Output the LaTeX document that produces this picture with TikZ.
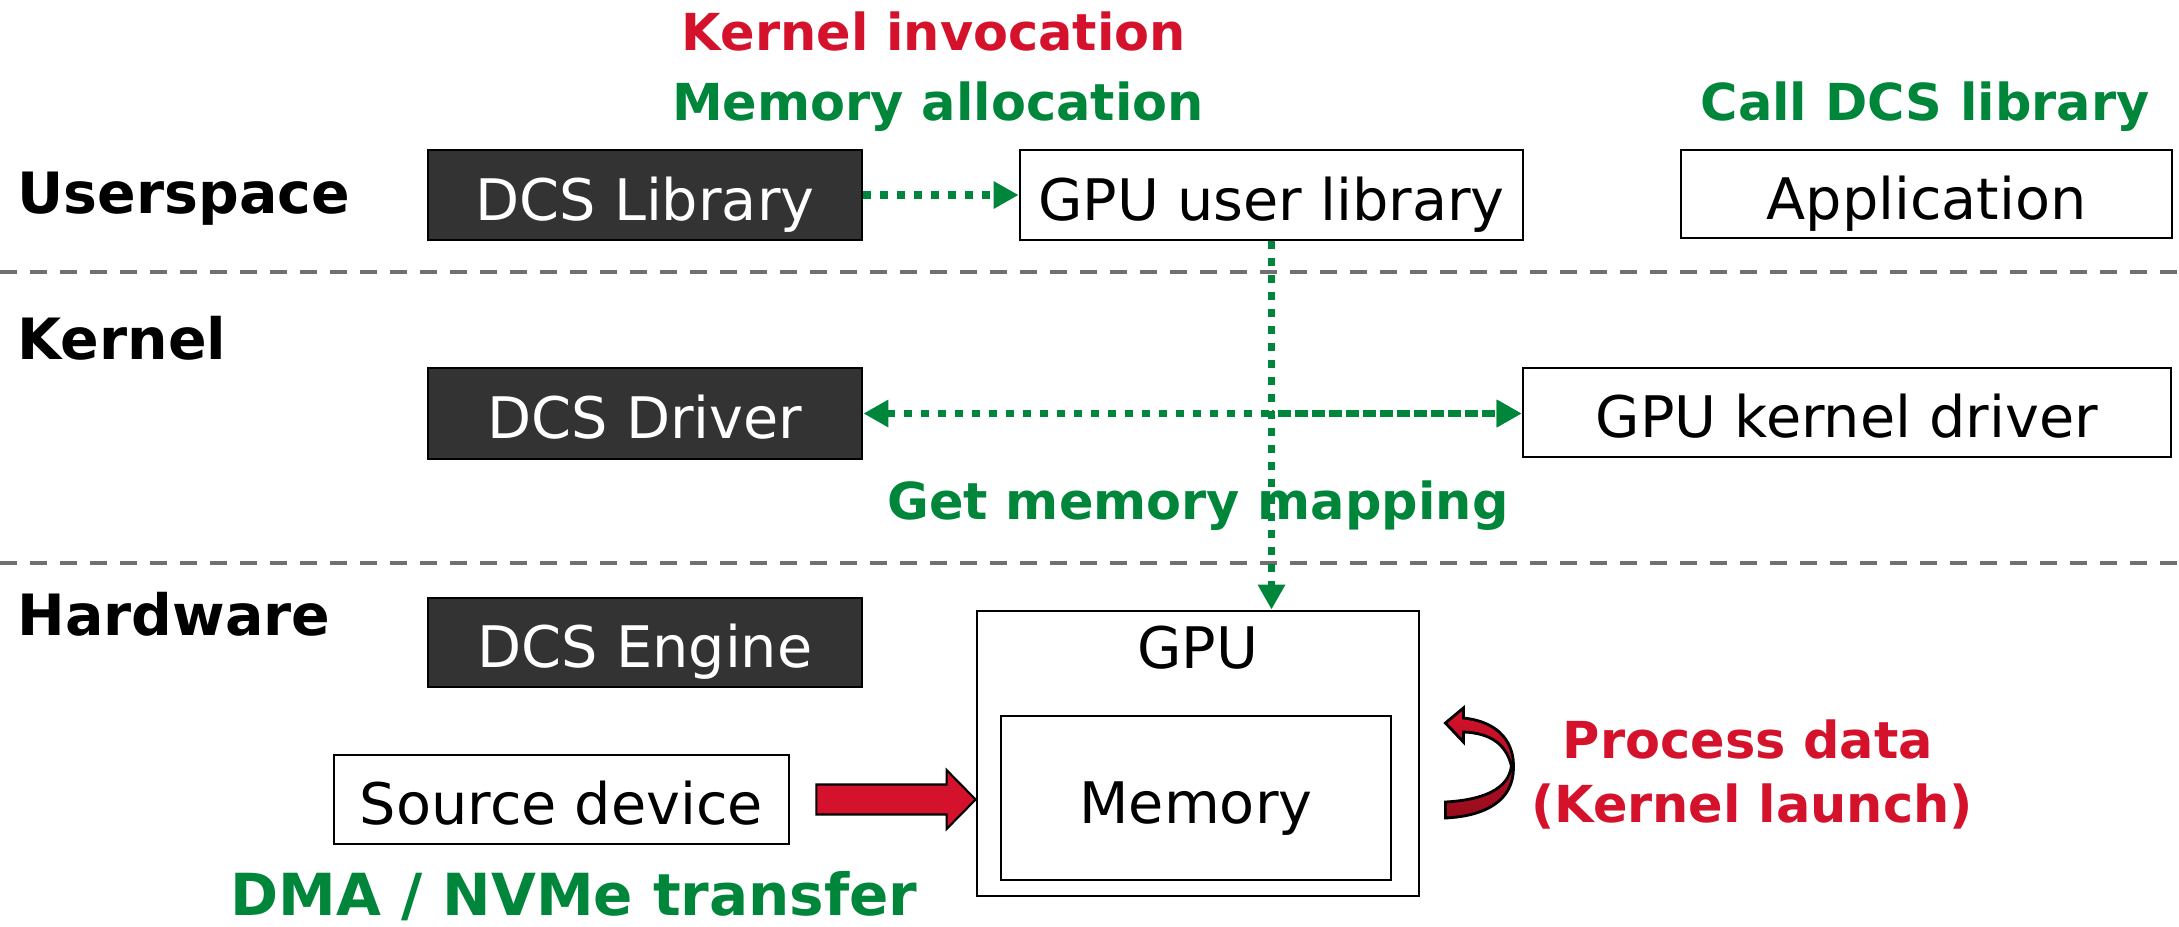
\documentclass[tikz,border=0pt]{standalone}
\usepackage{fontspec}
\setmainfont{DejaVu Sans}
\usepackage{tikz}
\usetikzlibrary{arrows.meta,positioning,calc}
\definecolor{dcsred}{RGB}{213,18,43}
\definecolor{dcsdarkred}{RGB}{150,12,28}
\definecolor{dcsgreen}{RGB}{0,134,59}
\definecolor{dcsgray}{RGB}{112,112,112}
\definecolor{dcsdark}{RGB}{51,51,51}
\tikzstyle{layerlabel} = [anchor=west, inner sep=0pt, text height=0.43cm, text depth=0pt, font=\fontsize{16.2}{19}\selectfont\bfseries]
\tikzstyle{box} = [draw=black, line width=0.8pt, fill=white, inner sep=0pt, text height=0.5cm, text depth=0pt, font=\fontsize{16.3}{19}\selectfont]
\tikzstyle{darkbox} = [box, fill=dcsdark, text=white]
\tikzstyle{note} = [inner sep=0pt, text height=0.39cm, text depth=0pt, font=\fontsize{14.5}{17}\selectfont\bfseries]
\tikzstyle{divider} = [dcsgray, line width=1.2pt, dash pattern=on 0.17cm off 0.13cm]
\tikzstyle{dotarrow} = [dcsgreen, line width=2.1pt, dash pattern=on 0.08cm off 0.09cm, -{Triangle[length=0.25cm,width=0.26cm]}]

\begin{document}
\begin{tikzpicture}
    \useasboundingbox (0,0) rectangle (21.79,-9.26);

    % layers
    \node[layerlabel] (userspace) at (0.17,-1.92) {Userspace};
    \node[layerlabel] (kernel) at (0.17,-3.38) {Kernel};
    \node[layerlabel] (hardware) at (0.17,-6.14) {Hardware};
    \draw[divider] (0,-2.72) -- (21.79,-2.72);
    \draw[divider] (0,-5.63) -- (21.79,-5.63);

    % Userspace
    \node[darkbox, minimum width=4.34cm, minimum height=0.9cm] (dcslib) at (6.45,-1.95) {DCS Library};
    \node[box, minimum width=5.03cm, minimum height=0.9cm] (gpuuser) at (12.715,-1.95) {GPU user library};
    \node[box, minimum width=4.91cm, minimum height=0.88cm] (app) at (19.265,-1.94) {Application};

    % Kernel
    \node[darkbox, minimum width=4.34cm, minimum height=0.91cm] (dcsdrv) at (6.45,-4.135) {DCS Driver};
    \node[box, minimum width=6.48cm, minimum height=0.89cm] (gpukdrv) at (18.47,-4.125) {GPU kernel driver};

    % Hardware
    \node[darkbox, minimum width=4.34cm, minimum height=0.89cm] (dcseng) at (6.45,-6.425) {DCS Engine};
    \node[box, minimum width=4.42cm, minimum height=2.85cm] (gpu) at (11.98,-7.535) {};
    \node[font=\fontsize{16.3}{19}\selectfont, anchor=base] (gpulabel) at ($(gpu.north)+(0,-0.59)$) {GPU};
    \node[box, minimum width=3.9cm, minimum height=1.64cm] (mem) at (11.96,-7.98) {Memory};
    \node[box, minimum width=4.55cm, minimum height=0.89cm] (src) at (5.615,-7.995) {Source device};

    % labels
    \node[note, text=dcsred] (invoke) at (9.34,-0.31) {Kernel invocation};
    \node[note, text=dcsgreen] (alloc) at (9.38,-1.01) {Memory allocation};
    \node[note, text=dcsgreen] (call) at (19.25,-1.01) {Call DCS library};
    \node[note, text=dcsgreen] (mapping) at (11.98,-5.0) {Get memory mapping};
    \node[note, text=dcsred] (process) at (17.48,-7.39) {Process data};
    \node[note, text=dcsred] (launch) at (17.52,-8.03) {(Kernel launch)};
    \node[note, text=dcsgreen, text height=0.44cm, font=\fontsize{16.5}{19}\selectfont\bfseries] (dma) at (5.74,-8.93) {DMA / NVMe transfer};

    % Arrows
    \draw[dotarrow] (dcslib) -- (gpuuser);
    \draw[dotarrow] (gpuuser.south) -- (gpuuser.south |- gpu.north);
    \coordinate (junction) at (gpuuser.south |- dcsdrv.east);
    \draw[dotarrow, {Triangle[length=0.25cm,width=0.26cm]}-{Triangle[length=0.25cm,width=0.26cm]}] (dcsdrv.east) -- (dcsdrv.east -| gpukdrv.west);
    \draw[dotarrow, dash phase=0.06cm] (junction) -- (dcsdrv.east -| gpukdrv.west);

    % DMA transfer
    \coordinate (dmatip) at (gpu.west |- src.east);
    \draw[line width=0.6pt, fill=dcsred] ($(src.east)+(0.26,0.15)$) -- ($(dmatip)+(-0.29,0.15)$)
        -- ($(dmatip)+(-0.29,0.295)$) -- (dmatip) -- ($(dmatip)+(-0.29,-0.295)$)
        -- ($(dmatip)+(-0.29,-0.15)$) -- ($(src.east)+(0.26,-0.15)$) -- cycle;

    % kernel launch
    \coordinate (loop) at ($(gpu.east)+(0.25,0)$);
    \begin{scope}[shift={(loop)}]
        \shade[top color=dcsred, bottom color=dcsdarkred, draw=black, line width=0.8pt]
            (0,0.305) -- (0.18,0.455) -- (0.18,0.355) .. controls (0.56,0.315) and (0.69,0.085) .. (0.68,-0.145)
            .. controls (0.68,-0.465) and (0.41,-0.625) .. (0,-0.645) -- (0,-0.485)
            .. controls (0.36,-0.465) and (0.63,-0.365) .. (0.66,-0.125)
            .. controls (0.61,0.085) and (0.46,0.205) .. (0.18,0.215) -- (0.18,0.115) -- cycle;
    \end{scope}
\end{tikzpicture}
\end{document}
